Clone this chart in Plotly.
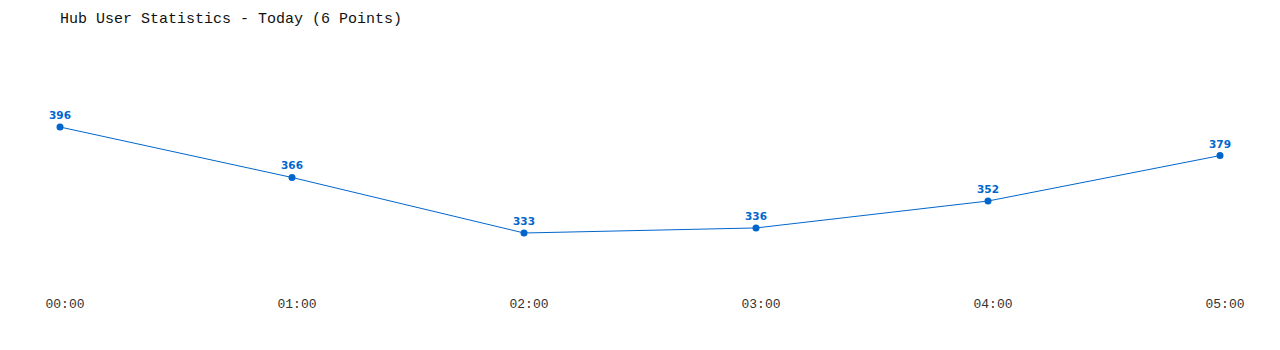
import plotly.graph_objects as go

times = ["00:00", "01:00", "02:00", "03:00", "04:00", "05:00"]
users = [396, 366, 333, 336, 352, 379]

# pixel mapping derived ranges
px_per_unit = 106 / 63.0
top_px, bot_px = 40, 290
y_hi = 396 + (127 - top_px) / px_per_unit
y_lo = 396 - (bot_px - 127) / px_per_unit

blue = "#0066cc"
fig = go.Figure()
fig.add_trace(go.Scatter(
    x=list(range(len(times))), y=users,
    mode="lines+markers+text",
    line=dict(color=blue, width=1),
    marker=dict(color=blue, size=7),
    text=[str(v) for v in users],
    textposition="top center",
    textfont=dict(family="DejaVu Sans", size=10.5, color=blue, weight="bold"),
    cliponaxis=False,
    hoverinfo="skip",
))
fig.update_layout(
    width=1280, height=350,
    margin=dict(l=60, r=60, t=top_px, b=350 - bot_px),
    paper_bgcolor="white", plot_bgcolor="white",
    showlegend=False,
    title=dict(text="Hub User Statistics - Today (6 Points)",
               x=60 / 1280, xref="container", xanchor="left",
               y=1 - 18 / 350, yref="container", yanchor="middle",
               font=dict(family="Liberation Mono", size=15, color="#111")),
    xaxis=dict(range=[0, 5], tickmode="array", tickvals=list(range(len(times))),
               ticktext=times, showgrid=False, zeroline=False, showline=False,
               ticks="", ticklabelshift=5, ticklabelstandoff=4,
               tickfont=dict(family="Liberation Mono", size=13, color="#333")),
    yaxis=dict(range=[y_lo, y_hi], visible=False, showgrid=False, zeroline=False),
)
fig.write_html("out.html")
